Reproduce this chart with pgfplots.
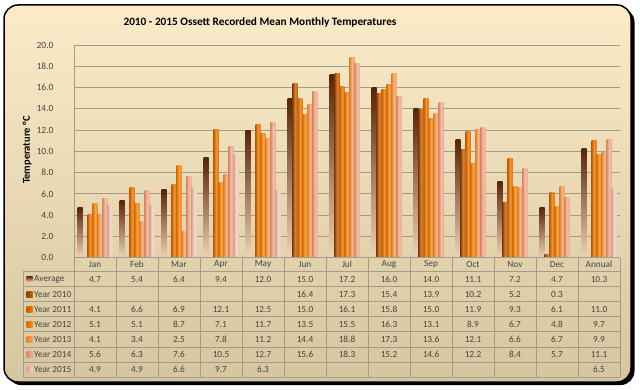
\documentclass[border=0pt]{standalone}
\usepackage{fontspec}
\setmainfont{Carlito}
\usepackage{pgfplots}
\usepackage{pgfplotstable}
\pgfplotsset{compat=1.18}
\pgfplotstableread{
x avg y10 y11 y12 y13 y14 y15
0 4.7 nan 4.1 5.1 4.1 5.6 4.9
1 5.4 nan 6.6 5.1 3.4 6.3 4.9
2 6.4 nan 6.9 8.7 2.5 7.6 6.6
3 9.4 nan 12.1 7.1 7.8 10.5 9.7
4 12.0 nan 12.5 11.7 11.2 12.7 6.3
5 15.0 16.4 15.0 13.5 14.4 15.6 nan
6 17.2 17.3 16.1 15.5 18.8 18.3 nan
7 16.0 15.4 15.8 16.3 17.3 15.2 nan
8 14.0 13.9 15.0 13.1 13.6 14.6 nan
9 11.1 10.2 11.9 8.9 12.1 12.2 nan
10 7.2 5.2 9.3 6.7 6.6 8.4 nan
11 4.7 0.3 6.1 4.8 6.7 5.7 nan
12 10.3 nan 11.0 9.7 9.9 11.1 6.5
}\temps
\definecolor{bgT}{HTML}{FCEBC8}
\definecolor{bgB}{HTML}{D6C69F}
\definecolor{gridc}{HTML}{A39C8E}
\definecolor{txt}{HTML}{454545}
\definecolor{avgT}{HTML}{5A2406}
\definecolor{avgB}{HTML}{EED3B8}
\definecolor{a10L}{HTML}{8C3F04}
\definecolor{a10R}{HTML}{C86205}
\definecolor{a11L}{HTML}{C45E04}
\definecolor{a11R}{HTML}{E67A08}
\definecolor{a12L}{HTML}{D97006}
\definecolor{a12R}{HTML}{F38C18}
\definecolor{a13L}{HTML}{E08438}
\definecolor{a13R}{HTML}{F4A260}
\definecolor{a14L}{HTML}{D98A6C}
\definecolor{a14R}{HTML}{EEAE8E}
\definecolor{a15L}{HTML}{D8A892}
\definecolor{a15R}{HTML}{F1CDBC}
\newcommand\tabfont{\fontsize{9.3}{11}\selectfont}
\begin{document}
\begin{tikzpicture}[x=1pt,y=1pt]
\useasboundingbox (0,0) rectangle (640,389);
% frame with shadow
\fill[black, rounded corners=14pt] (7,4) rectangle (634.5,381);
\shade[top color=bgT, bottom color=bgB, rounded corners=14pt] (4,7) rectangle (631,384);
\draw[black, line width=1.5pt, rounded corners=14pt] (4,7) rectangle (631,384);
% title
\node[font=\bfseries\fontsize{11.3}{13}\selectfont, text=black] at (260,367) {2010 - 2015 Ossett Recorded Mean Monthly Temperatures};
% y label
\node[rotate=90, font=\bfseries\fontsize{10.5}{12}\selectfont, text=black] at (27,239) {Temperature °C};
\begin{axis}[
  at={(74pt,131.3pt)}, anchor=south west,
  scale only axis, width=546pt, height=212.7pt,
  xmin=-0.5, xmax=12.5, ymin=0, ymax=20,
  ytick={0,2,...,20}, xtick=\empty,
  axis x line=none,
  axis y line*=left,
  y axis line style={draw=gridc, line width=0.8pt, -},
  major tick length=0pt,
  ymajorgrids, grid style={draw=gridc, line width=0.8pt},
  /pgf/number format/fixed, /pgf/number format/fixed zerofill,
  /pgf/number format/precision=1, /pgf/number format/assume math mode=true,
  yticklabel style={font=\fontsize{9.5}{11}\selectfont, text=txt, xshift=-17pt},
  ybar, bar width=0.119,
  clip=false,
]
\pgfplotsinvokeforeach{0,...,12}{
\addplot[draw=none, bar shift=-0.357, top color=avgT, middle color=avgT!55!avgB, bottom color=avgB, restrict x to domain=#1:#1] table[x=x, y=avg] {\temps};
\addplot[draw=none, bar shift=-0.119, left color=a11L, right color=a11R, middle color=a11R!80!white, restrict x to domain=#1:#1] table[x=x, y=y11] {\temps};
\addplot[draw=none, bar shift=0, left color=a12L, right color=a12R, middle color=a12R!80!white, restrict x to domain=#1:#1] table[x=x, y=y12] {\temps};
\addplot[draw=none, bar shift=0.119, left color=a13L, right color=a13R, middle color=a13R!80!white, restrict x to domain=#1:#1] table[x=x, y=y13] {\temps};
\addplot[draw=none, bar shift=0.238, left color=a14L, right color=a14R, middle color=a14R!80!white, restrict x to domain=#1:#1] table[x=x, y=y14] {\temps};
}
\pgfplotsinvokeforeach{5,...,11}{
\addplot[draw=none, bar shift=-0.238, left color=a10L, right color=a10R, middle color=a10R!80!white, restrict x to domain=#1:#1] table[x=x, y=y10] {\temps};
}
\pgfplotsinvokeforeach{0,1,2,3,4,12}{
\addplot[draw=none, bar shift=0.357, left color=a15L, right color=a15R, middle color=a15R!80!white, restrict x to domain=#1:#1] table[x=x, y=y15] {\temps};
}
\end{axis}
% data table
\begin{scope}[draw=gridc, line width=0.8pt]
\draw (74,131.3) -- (620,131.3);
\foreach \yy in {117.3,102.26,87.22,72.18,57.14,42.1,27.06,12.0} \draw (23,\yy) -- (620,\yy);
\draw (23,117.3) -- (23,12);
\foreach \k in {0,...,13} \draw (74+42*\k,131.3) -- (74+42*\k,12);
\end{scope}
\begin{scope}[every node/.style={font=\tabfont, text=txt, inner sep=0pt}]
\foreach \m [count=\k from 0] in {Jan,Feb,Mar,Apr,May,Jun,Jul,Aug,Sep,Oct,Nov,Dec,Annual}
  \node at (95+42*\k,124.3) {\m};
% row centres
\def\rA{109.78}\def\rB{94.74}\def\rC{79.7}\def\rD{64.66}\def\rE{49.62}\def\rF{34.58}\def\rG{19.54}
\foreach \v [count=\k from 0] in {4.7,5.4,6.4,9.4,12.0,15.0,17.2,16.0,14.0,11.1,7.2,4.7,10.3}
  \node at (95+42*\k,\rA) {\v};
\foreach \k/\v in {5/16.4,6/17.3,7/15.4,8/13.9,9/10.2,10/5.2,11/0.3}
  \node at (95+42*\k,\rB) {\v};
\foreach \v [count=\k from 0] in {4.1,6.6,6.9,12.1,12.5,15.0,16.1,15.8,15.0,11.9,9.3,6.1,11.0}
  \node at (95+42*\k,\rC) {\v};
\foreach \v [count=\k from 0] in {5.1,5.1,8.7,7.1,11.7,13.5,15.5,16.3,13.1,8.9,6.7,4.8,9.7}
  \node at (95+42*\k,\rD) {\v};
\foreach \v [count=\k from 0] in {4.1,3.4,2.5,7.8,11.2,14.4,18.8,17.3,13.6,12.1,6.6,6.7,9.9}
  \node at (95+42*\k,\rE) {\v};
\foreach \v [count=\k from 0] in {5.6,6.3,7.6,10.5,12.7,15.6,18.3,15.2,14.6,12.2,8.4,5.7,11.1}
  \node at (95+42*\k,\rF) {\v};
\foreach \k/\v in {0/4.9,1/4.9,2/6.6,3/9.7,4/6.3,12/6.5}
  \node at (95+42*\k,\rG) {\v};
% legend keys
\shade[top color=avgT, bottom color=avgB] (26.5,\rA-3) rectangle (32.5,\rA+3);
\shade[left color=a10L, right color=a10R] (26.5,\rB-3) rectangle (32.5,\rB+3);
\shade[left color=a11L, right color=a11R] (26.5,\rC-3) rectangle (32.5,\rC+3);
\shade[left color=a12L, right color=a12R] (26.5,\rD-3) rectangle (32.5,\rD+3);
\shade[left color=a13L, right color=a13R] (26.5,\rE-3) rectangle (32.5,\rE+3);
\shade[left color=a14L, right color=a14R] (26.5,\rF-3) rectangle (32.5,\rF+3);
\shade[left color=a15L, right color=a15R] (26.5,\rG-3) rectangle (32.5,\rG+3);
\node[anchor=west] at (34,\rA) {Average};
\node[anchor=west] at (34,\rB) {Year 2010};
\node[anchor=west] at (34,\rC) {Year 2011};
\node[anchor=west] at (34,\rD) {Year 2012};
\node[anchor=west] at (34,\rE) {Year 2013};
\node[anchor=west] at (34,\rF) {Year 2014};
\node[anchor=west] at (34,\rG) {Year 2015};
\end{scope}
\end{tikzpicture}
\end{document}
